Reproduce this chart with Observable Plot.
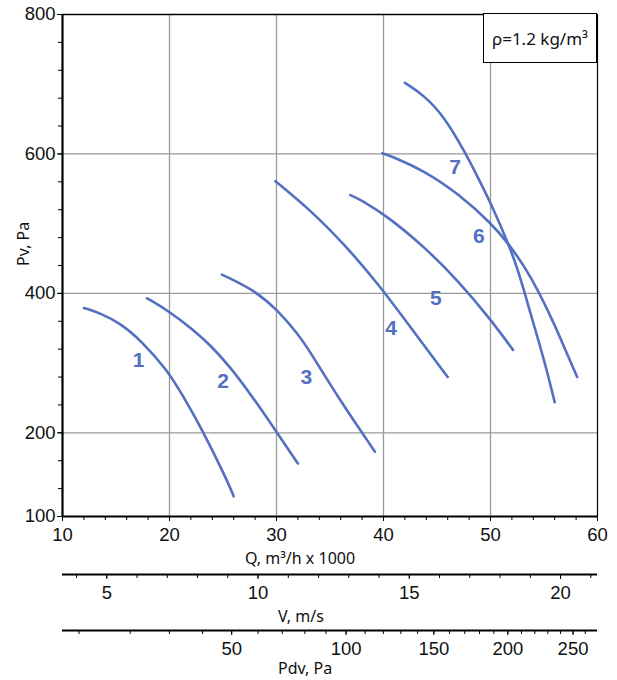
<!DOCTYPE html>
<html>
<head>
<meta charset="utf-8">
<script src="https://cdn.jsdelivr.net/npm/d3@7"></script>
<script src="https://cdn.jsdelivr.net/npm/@observablehq/plot@0.6"></script>
<style>
  html, body { margin: 0; padding: 0; background: #fff; }
  #wrap { position: relative; width: 617px; height: 680px; overflow: hidden; }
  #wrap svg { position: absolute; left: 0; }
  .title { position: absolute; font-family: "Noto Sans", "Open Sans", sans-serif; font-size: 16px; color: #111; white-space: nowrap; line-height: 1; }
  .rho { position: absolute; left: 483px; top: 13px; width: 112px; height: 48px; border: 1.5px solid #000; background: #fff;
         font-family: "Noto Sans", "Open Sans", sans-serif; font-size: 17px; display: flex; align-items: center; justify-content: center; color:#111; }
</style>
</head>
<body>
<div id="wrap"></div>
<script>
// ---------- data ----------
// Air flow Q (m³/h x 1000) and static pressure Pv (Pa) of the seven fan curves
const fan1Q = [12.0, 13.5, 15.4, 17.3, 19.8, 21.3, 22.9, 25.3, 26.0];
const fan1P = [379, 372, 357, 333, 290, 252, 209, 135, 109];
const fan2Q = [17.9, 19.8, 22.3, 23.8, 25.7, 27.6, 29.8, 32.0];
const fan2P = [393, 376, 347, 326, 294, 255, 206, 156];
const fan3Q = [24.9, 27.9, 30.1, 32.0, 33.2, 35.7, 39.2];
const fan3P = [427, 405, 376, 342, 315, 252, 173];
const fan4Q = [29.9, 33.2, 36.3, 39.5, 42.6, 46.0];
const fan4P = [561, 519, 471, 414, 350, 280];
const fan5Q = [36.9, 37.9, 40.4, 43.8, 47.0, 50.1, 52.1];
const fan5P = [541, 534, 510, 467, 418, 361, 319];
const fan6Q = [39.9, 40.7, 43.8, 47.0, 50.1, 51.7, 53.2, 54.5, 56.0, 57.3, 58.1];
const fan6P = [601, 597, 576, 543, 500, 471, 438, 403, 355, 308, 280];
const fan7Q = [42.0, 43.8, 45.7, 47.6, 48.8, 50.1, 51.7, 52.6, 53.8, 55.1, 56.0];
const fan7P = [702, 684, 653, 603, 567, 527, 470, 433, 368, 300, 244];

const curveNames = ["1", "2", "3", "4", "5", "6", "7"];
const labelQ = [17.1, 25.0, 32.8, 40.7, 44.9, 48.9, 46.7];
const labelP = [304, 274, 280, 350, 393, 482, 581];

// axes
const qDomain = [10, 60];
const qTicks = [10, 20, 30, 40, 50, 60];
const qGrid = [20, 30, 40, 50];
const pvDomain = [80, 800];
const pvTicks = [80, 200, 400, 600, 800];
const pvTickLabels = ["100", "200", "400", "600", "800"];
const pvGrid = [200, 400, 600];
const vTicks = [5, 10, 15, 20];
const pdvTicks = [50, 100, 150, 200, 250];

const RHO = 1.2;                 // kg/m³
const DUCT_AREA = Math.PI / 4;   // m² (Ø1000 mm outlet)
const qToV = q => q * 1000 / 3600 / DUCT_AREA;

// ---------- build ----------
const fansQ = [fan1Q, fan2Q, fan3Q, fan4Q, fan5Q, fan6Q, fan7Q];
const fansP = [fan1P, fan2P, fan3P, fan4P, fan5P, fan6P, fan7P];
const rows = [];
fansQ.forEach((qs, i) => qs.forEach((q, j) => rows.push({fan: curveNames[i], Q: q, P: fansP[i][j]})));
const labels = curveNames.map((n, i) => ({name: n, Q: labelQ[i], P: labelP[i]}));

const BLUE = "#5470c1";
const TICK_FONT = "'Liberation Sans Narrow', 'Arial Narrow', 'Liberation Sans', sans-serif";
const W = 617, ML = 62, MR = 20;

const main = Plot.plot({
  width: W, height: 680,
  marginLeft: ML, marginRight: MR, marginTop: 14, marginBottom: 164,
  x: {domain: qDomain},
  y: {domain: pvDomain},
  style: {fontFamily: TICK_FONT, fontSize: "18.5px", background: "transparent", color: "#111"},
  marks: [
    Plot.gridX({ticks: qGrid, stroke: "#9a9a9a", strokeOpacity: 1, strokeWidth: 1.3}),
    Plot.gridY({ticks: pvGrid, stroke: "#9a9a9a", strokeOpacity: 1, strokeWidth: 1.3}),
    Plot.ruleX([qDomain[1]], {stroke: "#000", strokeWidth: 1.2}),
    Plot.ruleY([pvDomain[1]], {stroke: "#000", strokeWidth: 1.5}),
    Plot.axisX({ticks: d3.range(12, 60, 2), tickSize: 4, text: null, label: null, stroke: "#000"}),
    Plot.axisX({ticks: qTicks, tickSize: 5, tickPadding: 6, tickFormat: d => String(d), label: null, stroke: "#000"}),
    Plot.axisY({ticks: d3.range(120, 800, 40), tickSize: 4, text: null, label: null, stroke: "#000"}),
    Plot.axisY({ticks: pvTicks, tickSize: 5, tickPadding: 2, tickFormat: d => pvTickLabels[pvTicks.indexOf(d)], label: null, stroke: "#000"}),
    Plot.ruleX([qDomain[0]], {stroke: "#000", strokeWidth: 2.2}),
    Plot.ruleY([pvDomain[0]], {stroke: "#000", strokeWidth: 2.2}),
    Plot.line(rows, {x: "Q", y: "P", z: "fan", stroke: BLUE, strokeWidth: 2.6, curve: "basis"}),
    Plot.text(labels, {x: "Q", y: "P", text: "name", fill: BLUE, fontSize: 21, fontWeight: "bold",
      fontFamily: TICK_FONT})
  ]
});
main.style.top = "0px";

const vDomain = qDomain.map(qToV);
const vAxis = Plot.plot({
  width: W, height: 40,
  marginLeft: ML, marginRight: MR, marginTop: 0, marginBottom: 39,
  x: {domain: vDomain},
  y: {domain: [0, 1], axis: null},
  style: {fontFamily: TICK_FONT, fontSize: "18.5px", background: "transparent", color: "#111"},
  marks: [
    Plot.axisX({ticks: d3.range(4, 22, 1), tickSize: 4, text: null, label: null, stroke: "#000"}),
    Plot.axisX({ticks: vTicks, tickSize: 5, tickPadding: 6, tickFormat: d => String(d), label: null, stroke: "#000"}),
    Plot.ruleY([0], {stroke: "#000", strokeWidth: 2})
  ]
});
vAxis.style.top = "573px";

const pdvDomain = vDomain.map(v => RHO * v * v / 2);
const pdvAxis = Plot.plot({
  width: W, height: 40,
  marginLeft: ML, marginRight: MR, marginTop: 0, marginBottom: 39,
  x: {type: "sqrt", domain: pdvDomain},
  y: {domain: [0, 1], axis: null},
  style: {fontFamily: TICK_FONT, fontSize: "18.5px", background: "transparent", color: "#111"},
  marks: [
    Plot.axisX({ticks: d3.range(10, 270, 10), tickSize: 4, text: null, label: null, stroke: "#000"}),
    Plot.axisX({ticks: pdvTicks, tickSize: 5, tickPadding: 6, tickFormat: d => String(d), label: null, stroke: "#000"}),
    Plot.ruleY([0], {stroke: "#000", strokeWidth: 2})
  ]
});
pdvAxis.style.top = "629px";

const wrap = document.getElementById("wrap");
wrap.append(main, vAxis, pdvAxis);

function addTitle(html, left, top, rotate) {
  const d = document.createElement("div");
  d.className = "title";
  d.innerHTML = html;
  d.style.left = left + "px";
  d.style.top = top + "px";
  if (rotate) { d.style.transformOrigin = "0 0"; d.style.transform = "rotate(-90deg)"; }
  wrap.append(d);
}
addTitle("Q, m³/h x 1000", 245, 550);
addTitle("V, m/s", 278, 608);
addTitle("Pdv, Pa", 278, 660);
addTitle("Pv, Pa", 15, 266, true);

const rho = document.createElement("div");
rho.className = "rho";
rho.textContent = "ρ=1.2 kg/m³";
wrap.append(rho);
</script>
</body>
</html>
